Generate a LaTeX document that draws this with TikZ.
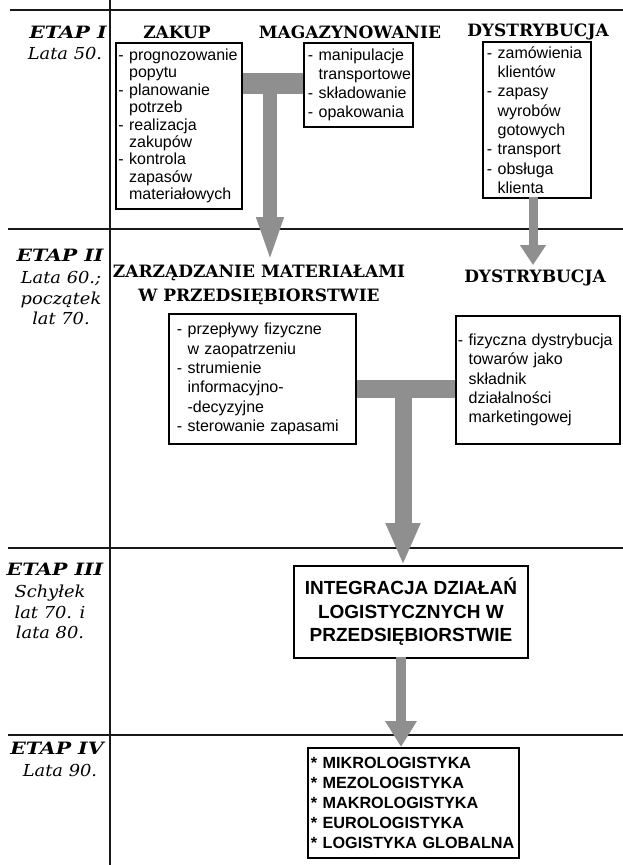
\documentclass[tikz,border=0pt]{standalone}
\usepackage{fontspec}
\usetikzlibrary{arrows.meta}
\newfontfamily\serifhd{DejaVu Serif}
\newfontfamily\etapfont{DejaVu Serif}[FakeStretch=1.2]
\newfontfamily\yearfont{DejaVu Serif}[FakeStretch=1.08]
\newfontfamily\bodysans{Liberation Sans}
\definecolor{flowgray}{gray}{0.56}
% list items are broken by hand only
\hyphenpenalty=10000
\exhyphenpenalty=10000

\tikzset{
  rule/.style={line width=1.4pt, black!90},
  listbox/.style={draw, line width=1.9pt, anchor=north west, align=left,
    inner xsep=4pt, inner ysep=0pt,
    font=\bodysans\fontsize{16}{19.3}\selectfont},
  head/.style={font=\serifhd\bfseries\fontsize{17}{24}\selectfont,
    inner sep=0pt, align=center},
  etap/.style={font=\etapfont\bfseries\itshape\fontsize{17}{20}\selectfont,
    inner sep=0pt},
  years/.style={font=\yearfont\itshape\fontsize{16.5}{20.7}\selectfont,
    inner sep=0pt, align=center},
  bar/.style={draw=flowgray, line cap=butt},
  flow/.style={draw=flowgray, fill=flowgray, line cap=butt},
}
\newcommand{\ind}{\phantom{- }}

\begin{document}
\begin{tikzpicture}[x=1pt, y=-1pt]
\useasboundingbox (0,0) rectangle (623,865);

% table rules
\draw[rule] (10,10) -- (623,10);
\draw[rule] (8,229) -- (623,229);
\draw[rule] (8,548) -- (623,548);
\draw[rule] (8,735) -- (623,735);
\draw[rule] (110,0) -- (110,865);

% stage labels
\node[etap] (e1) at (68,32) {ETAP I};
\node[years] (y1) at (65,53) {Lata 50.};
\node[etap] (e2) at (60,255) {ETAP II};
\node[years] (y2) at (61,298) {Lata 60.;\\początek\\lat 70.};
\node[etap] (e3) at (55,569) {ETAP III};
\node[years] (y3) at (50,612) {Schyłek\\lat 70. i\\lata 80.};
\node[etap] (e4) at (57,748) {ETAP IV};
\node[years] (y4) at (60,770) {Lata 90.};

% stage I
\node[head] (hzakup) at (177,32) {ZAKUP};
\node[head] (hmag) at (350,32) {MAGAZYNOWANIE};
\node[head] (hdys) at (538,32) {DYSTRYBUCJA};

\node[listbox, text width=121pt, inner xsep=2.5pt, minimum height=166pt,
      font=\bodysans\fontsize{16}{17.4}\selectfont] (zakup) at (115,42)
  {- prognozowanie\\\ind popytu\\- planowanie\\\ind potrzeb\\- realizacja\\\ind zakupów\\- kontrola\\\ind zapasów\\\ind materiałowych};
\node[listbox, text width=101pt, minimum height=84pt,
      font=\bodysans\fontsize{16}{19}\selectfont] (mag) at (303,42)
  {- manipulacje\\\ind transportowe\\- składowanie\\- opakowania};
\node[listbox, text width=100pt, minimum height=156pt] (dys) at (482,41)
  {- zamówienia\\\ind klientów\\- zapasy\\\ind wyrobów\\\ind gotowych\\- transport\\- obsługa\\\ind klienta};

% stage II
\node[head] (hzm) at (259,285) {ZARZĄDZANIE MATERIAŁAMI\\W PRZEDSIĘBIORSTWIE};
\node[head] (hdys2) at (535,278) {DYSTRYBUCJA};

\node[listbox, text width=171pt, minimum height=130pt, inner xsep=8pt] (mz) at (168,313)
  {- przepływy fizyczne\\\ind w zaopatrzeniu\\- strumienie\\\ind informacyjno-\\\ind -decyzyjne\\- sterowanie zapasami};
\node[listbox, text width=160pt, minimum height=128pt, inner xsep=2pt] (dr) at (455,315)
  {- fizyczna dystrybucja\\\ind towarów jako\\\ind składnik\\\ind działalności\\\ind marketingowej};

% stage III
\node[draw, line width=1.9pt, anchor=north west, minimum width=234pt, minimum height=92pt,
      align=center, inner sep=0pt,
      font=\bodysans\bfseries\fontsize{19}{23.5}\selectfont] (integ) at (293,565)
  {INTEGRACJA DZIAŁAŃ\\LOGISTYCZNYCH W\\PRZEDSIĘBIORSTWIE};

% stage IV
\node[listbox, text width=205pt, inner xsep=3pt, minimum height=110pt,
      font=\bodysans\bfseries\fontsize{16.2}{20}\selectfont] (forms) at (307,747)
  {{*} MIKROLOGISTYKA\\{*} MEZOLOGISTYKA\\{*} MAKROLOGISTYKA\\{*} EUROLOGISTYKA\\{*} LOGISTYKA GLOBALNA};

% flows: T-junction from purchasing and storage to materials management
\coordinate (t1) at (270,83.5);
\coordinate (tip1) at (270,263);
\draw[bar, line width=21pt] (zakup.east |- t1) -- (mag.west |- t1);
\draw[flow, line width=14pt, -{Triangle[width=24pt, length=46pt]}] (t1) -- (tip1);

% distribution to physical distribution
\coordinate (d1) at (533,197);
\coordinate (tip2) at (533,265);
\draw[flow, line width=9pt, -{Triangle[width=25pt, length=20pt]}] (d1) -- (tip2);

% T-junction from stage II into integration
\coordinate (t2) at (403,389);
\draw[bar, line width=18pt] (mz.east |- t2) -- (dr.west |- t2);
\draw[flow, line width=17pt, -{Triangle[width=32pt, length=42pt]}] (t2) -- (t2 |- integ.north);

% integration into stage IV
\coordinate (i1) at (401,657);
\draw[flow, line width=10pt, -{Triangle[width=30pt, length=26pt]}] (i1) -- (i1 |- forms.north);
\end{tikzpicture}
\end{document}
